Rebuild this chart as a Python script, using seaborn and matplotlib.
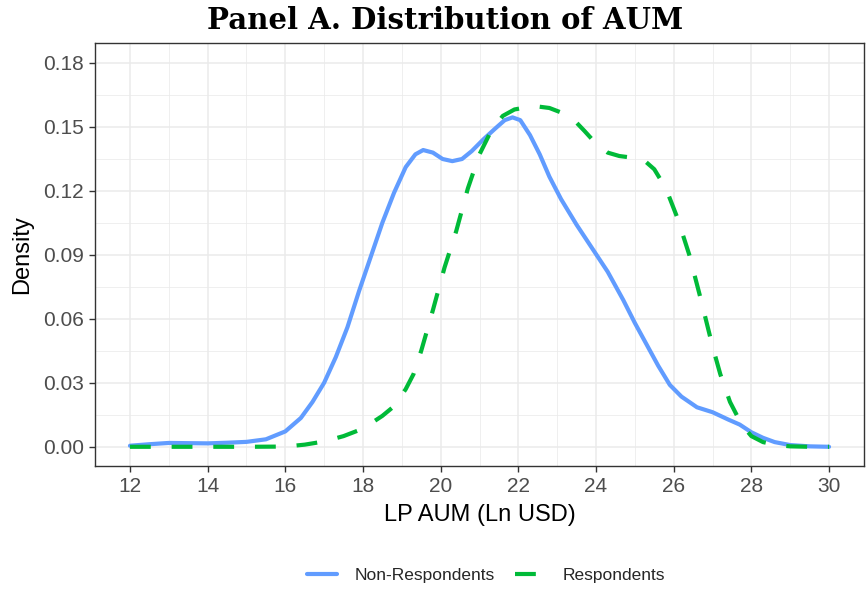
import matplotlib
matplotlib.use("Agg")
import matplotlib.pyplot as plt
import numpy as np
import pandas as pd
import seaborn as sns
from matplotlib.ticker import MultipleLocator
from matplotlib.lines import Line2D

# ---- data ----
x_nonresp = [12.0, 12.5, 13.0, 13.5, 14.0, 14.5, 15.0, 15.5, 16.0, 16.4, 16.7, 17.0,
             17.3, 17.6, 17.9, 18.2, 18.5, 18.8, 19.1, 19.35, 19.55, 19.8, 20.05,
             20.3, 20.55, 20.8, 21.1, 21.4, 21.65, 21.85, 22.05, 22.3, 22.55, 22.8,
             23.1, 23.5, 23.9, 24.3, 24.7, 25.0, 25.3, 25.6, 25.9, 26.2, 26.6, 27.0,
             27.4, 27.7, 28.0, 28.3, 28.6, 29.0, 29.5, 30.0]
y_nonresp = [0.0005, 0.0012, 0.0018, 0.0017, 0.0016, 0.0019, 0.0023, 0.0035, 0.0072,
             0.0135, 0.0210, 0.0300, 0.0420, 0.0560, 0.0730, 0.0890, 0.1050, 0.1190,
             0.1310, 0.1370, 0.1390, 0.1378, 0.1348, 0.1338, 0.1348, 0.1385, 0.1440,
             0.1490, 0.1530, 0.1543, 0.1530, 0.1460, 0.1370, 0.1265, 0.1160, 0.1040,
             0.0930, 0.0820, 0.0688, 0.0580, 0.0480, 0.0380, 0.0290, 0.0235, 0.0185,
             0.0162, 0.0128, 0.0104, 0.0068, 0.0042, 0.0022, 0.0008, 0.0002, 0.0000]

x_resp = [12.0, 13.0, 14.0, 15.0, 16.0, 16.5, 17.0, 17.5, 18.0, 18.5, 18.8, 19.1,
          19.3, 19.5, 19.8, 20.1, 20.4, 20.7, 21.0, 21.3, 21.6, 21.9, 22.2, 22.5,
          22.8, 23.1, 23.4, 23.7, 24.0, 24.3, 24.6, 24.9, 25.2, 25.5, 25.8, 26.1,
          26.4, 26.7, 27.0, 27.2, 27.45, 27.75, 28.0, 28.3, 28.65, 29.0, 29.5, 30.0]
y_resp = [0.0, 0.0, 0.0, 0.0, 0.0001, 0.0010, 0.0025, 0.0050, 0.0085, 0.0145,
          0.0190, 0.0270, 0.0340, 0.0450, 0.0640, 0.0840, 0.1010, 0.1210, 0.1370,
          0.1480, 0.1550, 0.1580, 0.1590, 0.1594, 0.1587, 0.1566, 0.1537, 0.1480,
          0.1420, 0.1378, 0.1362, 0.1355, 0.1348, 0.1300, 0.1210, 0.1070, 0.0900,
          0.0690, 0.0470, 0.0340, 0.0210, 0.0104, 0.0050, 0.0022, 0.0008, 0.0002,
          0.0, 0.0]

series_names = ["Non-Respondents", "Respondents"]
x_tick_values = [12, 14, 16, 18, 20, 22, 24, 26, 28, 30]
y_tick_values = [0.00, 0.03, 0.06, 0.09, 0.12, 0.15, 0.18]
y_tick_labels = ["0.00", "0.03", "0.06", "0.09", "0.12", "0.15", "0.18"]

title_text = "Panel A. Distribution of AUM"
x_label = "LP AUM (Ln USD)"
y_label = "Density"

# ---- style ----
sns.set_theme(style="white")
plt.rcParams["font.family"] = ["Liberation Sans", "DejaVu Sans"]

blue = "#619CFF"
green = "#00BA38"

fig = plt.figure(figsize=(8.67, 5.89), dpi=100)
ax = fig.add_axes([95 / 867, 1 - 466 / 589, (864 - 95) / 867, (466 - 43.3) / 589])

df_non = pd.DataFrame({"x": x_nonresp, "y": y_nonresp})
df_res = pd.DataFrame({"x": x_resp, "y": y_resp})

sns.lineplot(data=df_non, x="x", y="y", ax=ax, color=blue, linewidth=3.0,
             estimator=None, sort=False, legend=False)
sns.lineplot(data=df_res, x="x", y="y", ax=ax, color=green, linewidth=3.0,
             estimator=None, sort=False, legend=False, linestyle=(0, (5, 5)))

ax.set_xlim(11.1, 30.9)
ax.set_ylim(-0.009, 0.189)
ax.set_xticks(x_tick_values)
ax.set_yticks(y_tick_values)
ax.set_yticklabels(y_tick_labels)
ax.xaxis.set_minor_locator(MultipleLocator(1))
ax.yaxis.set_minor_locator(MultipleLocator(0.015))

ax.grid(which="major", color="#EBEBEB", linewidth=1.1)
ax.grid(which="minor", color="#EBEBEB", linewidth=0.55)
ax.set_axisbelow(True)
for s in ax.spines.values():
    s.set_color("#333333")
    s.set_linewidth(1.0)

ax.tick_params(which="major", bottom=True, left=True, direction="out", length=4,
               width=1, color="#333333", labelcolor="#4D4D4D", labelsize=15, pad=4)
ax.tick_params(which="minor", bottom=False, left=False)

ax.set_xlabel(x_label, fontsize=17, color="black", labelpad=6)
ax.set_ylabel(y_label, fontsize=17, color="black", labelpad=7)

fig.text(445 / 867, 1 - 29 / 589, title_text, fontfamily=["DejaVu Serif"],
         fontweight="bold", fontsize=21, ha="center", va="baseline", color="black")

handles = [Line2D([], [], color=blue, linewidth=3.0),
           Line2D([], [], color=green, linewidth=3.0, linestyle=(0, (5, 5)))]
fig.legend(handles, series_names, loc="center", bbox_to_anchor=(486 / 867, 1 - 575 / 589),
           ncol=2, frameon=False, fontsize=12.5, handlelength=1.7, columnspacing=1.2,
           handletextpad=1.0)

fig.savefig("out.png", dpi=100)
